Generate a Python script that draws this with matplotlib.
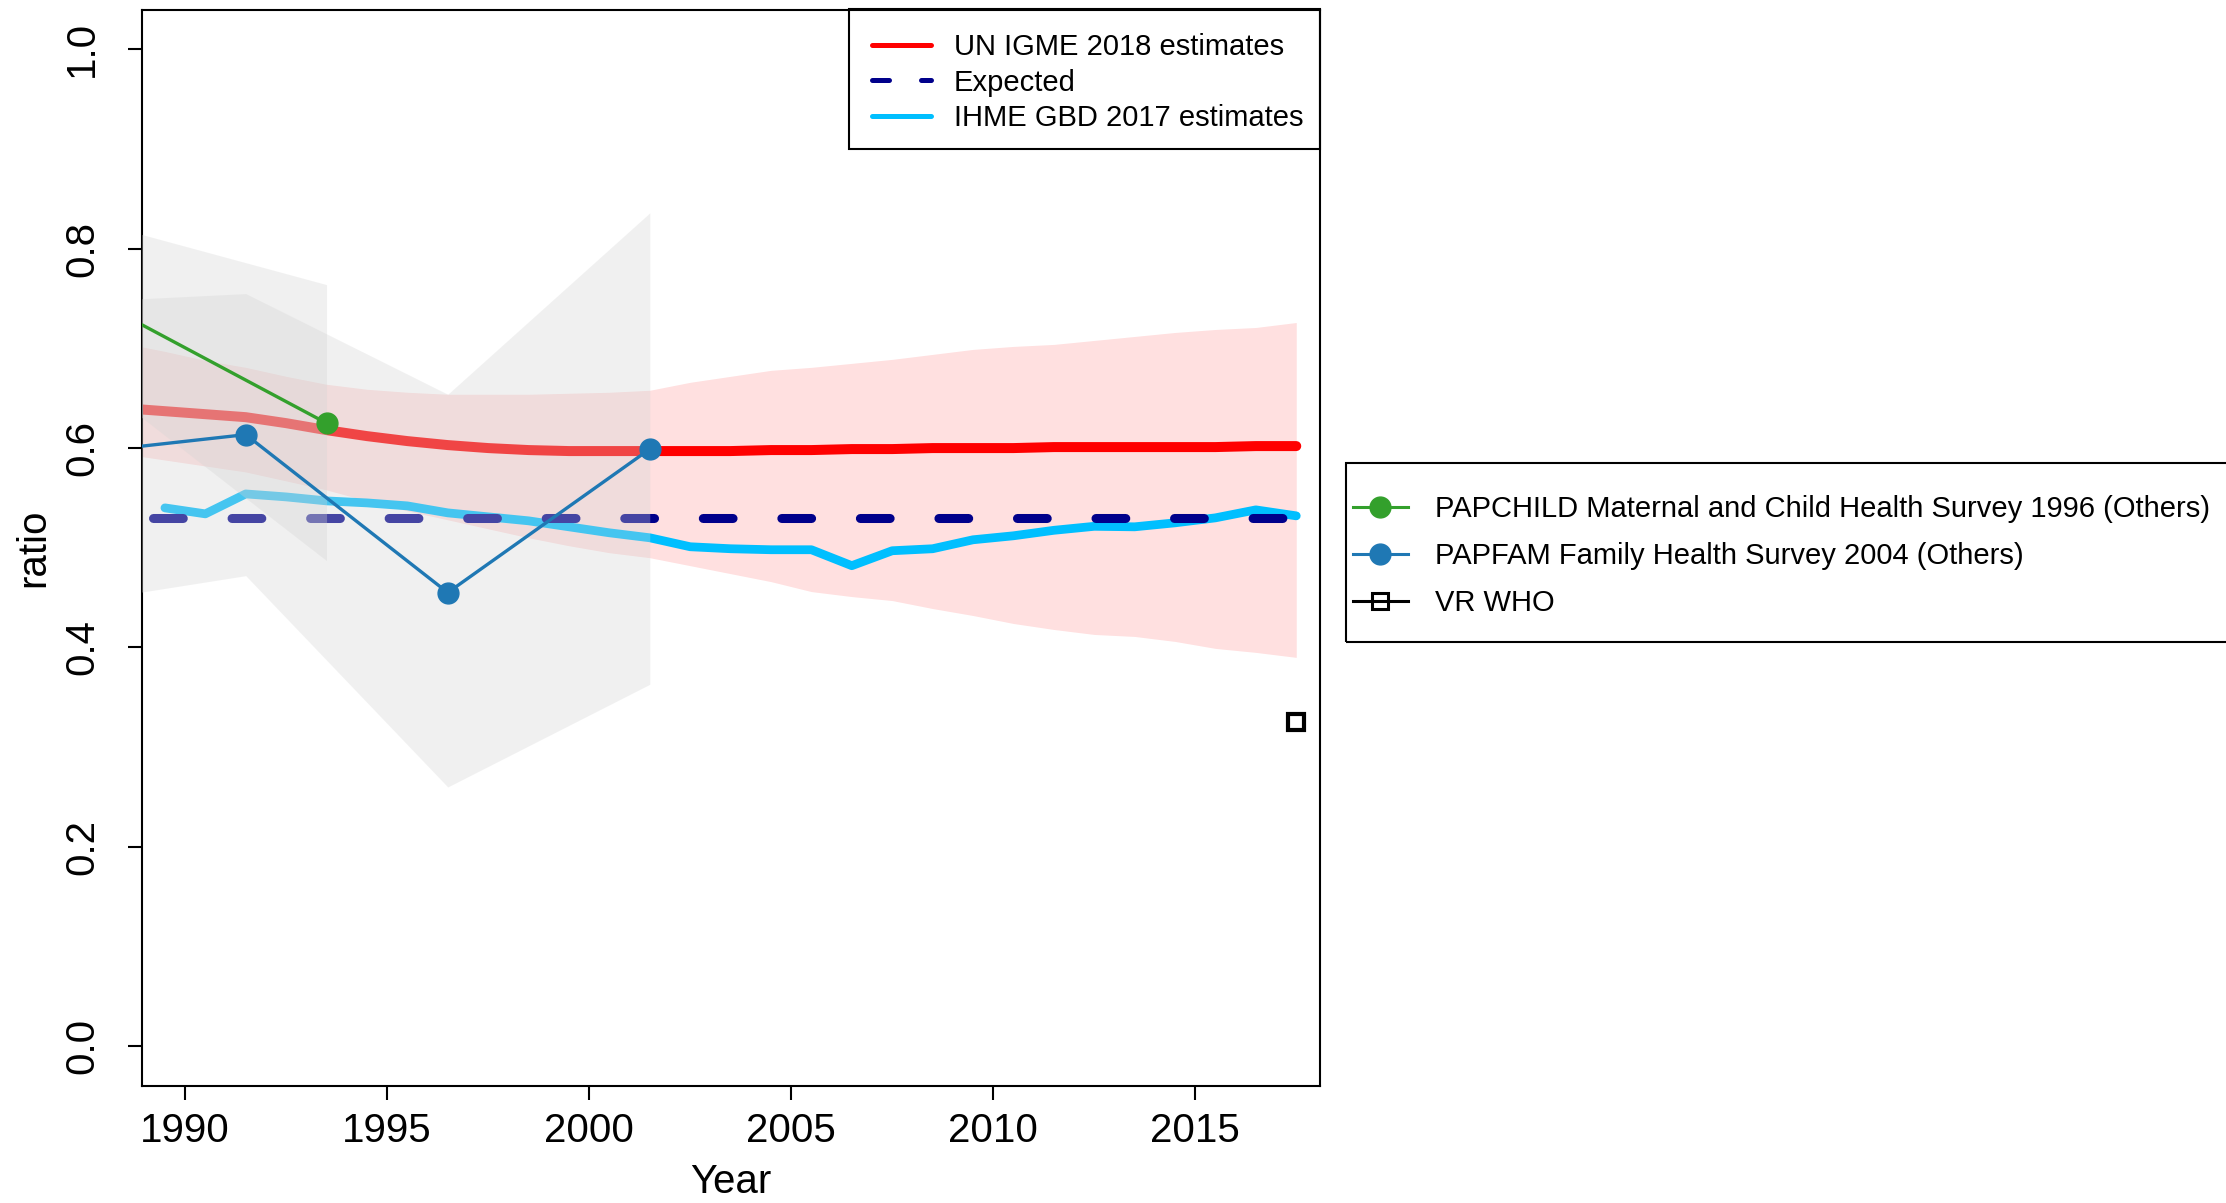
import matplotlib
matplotlib.use('Agg')
import matplotlib.pyplot as plt
from matplotlib.lines import Line2D
from matplotlib.patches import Rectangle
import numpy as np

plt.rcParams['font.family'] = ['Liberation Sans', 'DejaVu Sans']

# ---------------- data ----------------
igme_years = [1988.5, 1989.5, 1990.5, 1991.5, 1992.5, 1993.5, 1994.5, 1995.5, 1996.5, 1997.5,
              1998.5, 1999.5, 2000.5, 2001.5, 2002.5, 2003.5, 2004.5, 2005.5, 2006.5, 2007.5,
              2008.5, 2009.5, 2010.5, 2011.5, 2012.5, 2013.5, 2014.5, 2015.5, 2016.5, 2017.5]
igme = [0.640, 0.637, 0.634, 0.631, 0.625, 0.618, 0.612, 0.607, 0.603, 0.600,
        0.598, 0.597, 0.597, 0.597, 0.597, 0.597, 0.598, 0.598, 0.599, 0.599,
        0.600, 0.600, 0.600, 0.601, 0.601, 0.601, 0.601, 0.601, 0.602, 0.602]
igme_hi = [0.705, 0.697, 0.688, 0.681, 0.672, 0.664, 0.659, 0.656, 0.654, 0.654,
           0.654, 0.655, 0.656, 0.658, 0.666, 0.672, 0.678, 0.681, 0.685, 0.689,
           0.694, 0.699, 0.702, 0.704, 0.708, 0.712, 0.716, 0.719, 0.721, 0.726]
igme_lo = [0.594, 0.588, 0.582, 0.576, 0.567, 0.558, 0.547, 0.537, 0.528, 0.519,
           0.510, 0.502, 0.495, 0.490, 0.482, 0.474, 0.466, 0.456, 0.451, 0.447,
           0.439, 0.432, 0.424, 0.418, 0.413, 0.411, 0.406, 0.399, 0.395, 0.390]

ihme_years = [1989.5, 1990.5, 1991.5, 1992.5, 1993.5, 1994.5, 1995.5, 1996.5, 1997.5, 1998.5,
              1999.5, 2000.5, 2001.5, 2002.5, 2003.5, 2004.5, 2005.5, 2006.5, 2007.5, 2008.5,
              2009.5, 2010.5, 2011.5, 2012.5, 2013.5, 2014.5, 2015.5, 2016.5, 2017.5]
ihme = [0.540, 0.534, 0.554, 0.551, 0.547, 0.545, 0.542, 0.535, 0.531, 0.527,
        0.521, 0.515, 0.510, 0.501, 0.499, 0.498, 0.498, 0.482, 0.497, 0.499,
        0.508, 0.512, 0.5175, 0.5215, 0.521, 0.525, 0.530, 0.538, 0.532]

expected_years = [1989.2, 2017.5]
expected = [0.530, 0.530]

papchild_years = [1988.5, 1993.5]
papchild = [0.733, 0.625]
papchild_lo = [0.644, 0.487]
papchild_hi = [0.819, 0.764]

papfam_years = [1986.5, 1991.5, 1996.5, 2001.5]
papfam = [0.591, 0.6135, 0.455, 0.599]
papfam_lo = [0.440, 0.472, 0.260, 0.363]
papfam_hi = [0.745, 0.755, 0.654, 0.836]

vr_years = [2017.5]
vr = [0.325]

xticks = [1990, 1995, 2000, 2005, 2010, 2015]
yticks = [0.0, 0.2, 0.4, 0.6, 0.8, 1.0]
ytick_labels = ['0.0', '0.2', '0.4', '0.6', '0.8', '1.0']

legend1_labels = ['UN IGME 2018 estimates', 'Expected', 'IHME GBD 2017 estimates']
legend2_labels = ['PAPCHILD Maternal and Child Health Survey 1996 (Others)',
                  'PAPFAM Family Health Survey 2004 (Others)', 'VR WHO']

# ---------------- colours ----------------
RED = '#ff0000'
CYAN = '#00bfff'
NAVY = '#00008b'
GREEN = '#33a02c'
BLUE = '#1f78b4'
GREYBAND = '#d4d4d4'

W, H = 2226, 1203
fig = plt.figure(figsize=(W / 100, H / 100), dpi=100)
ax_l, ax_r, ax_t, ax_b = 141.5, 1319.7, 9.5, 1086
ax = fig.add_axes([ax_l / W, 1 - ax_b / H, (ax_r - ax_l) / W, (ax_b - ax_t) / H])

ax.fill_between(igme_years, igme_lo, igme_hi, color=RED, alpha=0.12, lw=0, zorder=1)
ax.plot(igme_years, igme, color=RED, lw=7.2, solid_capstyle='round', solid_joinstyle='round', zorder=2)
ax.plot(ihme_years, ihme, color=CYAN, lw=6.3, solid_capstyle='round', solid_joinstyle='round', zorder=2)
ax.plot(expected_years, expected, color=NAVY, lw=6.5, dashes=(3.3, 5.4), dash_capstyle='round', zorder=2)

ax.fill_between(papchild_years, papchild_lo, papchild_hi, color=GREYBAND, alpha=0.33, lw=0, zorder=3)
ax.fill_between(papfam_years, papfam_lo, papfam_hi, color=GREYBAND, alpha=0.33, lw=0, zorder=3)

ax.plot(papchild_years, papchild, color=GREEN, lw=2.4, marker='o', ms=15, zorder=4)
ax.plot(papfam_years, papfam, color=BLUE, lw=2.4, marker='o', ms=15, zorder=4)
ax.plot(vr_years, vr, ls='none', marker='s', ms=12, mfc='none', mec='black', mew=3, zorder=4)

ax.set_xlim(1988.92, 2018.08)
ax.set_ylim(-0.04, 1.04)
ax.set_xticks(xticks)
ax.set_xticklabels([str(t) for t in xticks])
ax.set_yticks(yticks)
ax.set_yticklabels(ytick_labels, rotation=90, va='center')
ax.tick_params(axis='both', length=10, width=1.5, labelsize=29, direction='out')
ax.tick_params(axis='x', pad=9)
ax.tick_params(axis='y', pad=19)
for s in ax.spines.values():
    s.set_linewidth(1.5)
    s.set_color('black')
ax.set_xlabel('Year', fontsize=29, labelpad=9)
ax.set_ylabel('ratio', fontsize=29, labelpad=8)

# ---------------- legends ----------------
h1 = [Line2D([], [], color=RED, lw=3.6, solid_capstyle='round'),
      Line2D([], [], color=NAVY, lw=3.6, dashes=(3.4, 6.4), dash_capstyle='round'),
      Line2D([], [], color=CYAN, lw=3.6, solid_capstyle='round')]
fig.legend(h1, legend1_labels, loc='upper left', bbox_to_anchor=(872 / W, 1 - 33 / H),
           frameon=False, fontsize=21, borderpad=0, borderaxespad=0,
           handlelength=2.02, handletextpad=0.79, labelspacing=0.26)
fig.patches.append(Rectangle((849 / W, 1 - 149 / H), (1320 - 849) / W, (149 - 8.5) / H,
                             transform=fig.transFigure, fill=False, ec='black', lw=1.5))

h2 = [Line2D([], [], color=GREEN, lw=2.2, marker='o', ms=15),
      Line2D([], [], color=BLUE, lw=2.2, marker='o', ms=15),
      Line2D([], [], color='black', lw=2.2, marker='s', ms=12, mfc='none', mec='black', mew=2.2)]
fig.legend(h2, legend2_labels, loc='upper left', bbox_to_anchor=(1352.7 / W, 1 - 495 / H),
           frameon=False, fontsize=21, borderpad=0, borderaxespad=0, numpoints=1,
           handlelength=1.9, handletextpad=0.91, labelspacing=0.65)
fig.patches.append(Rectangle((1346 / W, 1 - 642 / H), (2240 - 1346) / W, (642 - 463) / H,
                             transform=fig.transFigure, fill=False, ec='black', lw=1.5))

fig.savefig('out.png', dpi=100)
